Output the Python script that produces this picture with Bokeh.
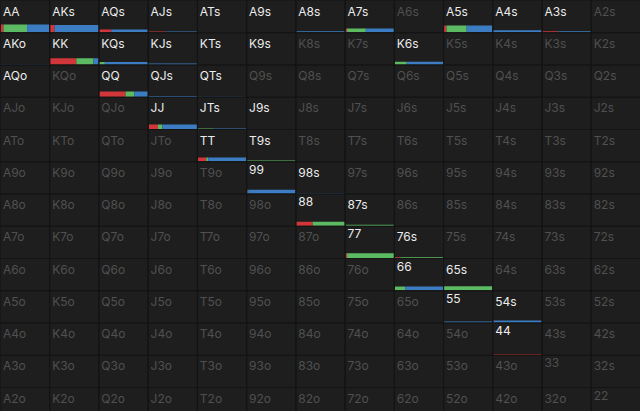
from bokeh.plotting import figure
from bokeh.models import Range1d, ColumnDataSource, GlobalInlineStyleSheet
from bokeh.embed import file_html
from bokeh.resources import INLINE
from bokeh.core.properties import value

# ---- data ----
RANKS = ["A", "K", "Q", "J", "T", "9", "8", "7", "6", "5", "4", "3", "2"]

ACTIVE = ["AA", "AKs", "AQs", "AJs", "ATs", "A9s", "A8s", "A7s", "A5s", "A4s", "A3s",
          "AKo", "KK", "KQs", "KJs", "KTs", "K9s", "K6s",
          "AQo", "QQ", "QJs", "QTs",
          "JJ", "JTs", "J9s",
          "TT", "T9s", "99", "98s", "88", "87s", "77", "76s",
          "66", "65s", "55", "54s", "44"]

BAR_HANDS = ["AA", "AKs", "AQs", "AJs", "ATs", "A8s", "A7s", "A5s", "A4s", "A3s",
             "AKo", "KK", "KQs", "KJs", "K6s",
             "QQ", "QJs", "QTs",
             "JJ", "JTs", "J9s",
             "TT", "T9s", "99", "98s", "88", "87s", "77", "76s",
             "66", "65s", "55", "54s", "44"]
# overall frequency of the hand (bar height)
BAR_WEIGHT = [0.83, 0.77, 0.33, 0.12, 0.06, 0.14, 0.42, 0.72, 0.25, 0.15,
              0.05, 0.67, 0.30, 0.16, 0.32,
              0.57, 0.13, 0.05,
              0.50, 0.10, 0.05,
              0.42, 0.12, 0.42, 0.07, 0.45, 0.15, 0.52, 0.13,
              0.42, 0.45, 0.16, 0.26, 0.10]
# split between actions, in percent
BAR_RED = [6, 10, 25, 36, 46, 0, 4, 6, 0, 33,
           0, 54, 0, 0, 0,
           54, 0, 0,
           20, 0, 0,
           18, 0, 2, 0, 34, 0, 4, 12,
           0, 0, 0, 2, 100]
BAR_GREEN = [48, 0, 0, 0, 0, 0, 38, 41, 0, 0,
             0, 35, 12, 0, 25,
             18, 3, 8,
             9, 33, 30,
             4, 100, 1, 0, 66, 100, 96, 88,
             22, 100, 0, 0, 0]
BAR_BLUE = [46, 90, 75, 64, 54, 100, 58, 53, 100, 67,
            100, 11, 88, 100, 75,
            28, 97, 92,
            71, 67, 70,
            78, 0, 97, 100, 0, 0, 0, 0,
            78, 0, 100, 98, 0]

# ---- styles ----
BG = "#1e1e1e"
GRID = "#141414"
TXT_ON = "#ececec"
TXT_OFF = "#505050"
C_RED = "#d0363a"
C_GREEN = "#5cbb62"
C_BLUE = "#3b7cc2"

W, H = 640, 411
N = 13
CELL_W_PX = W / N
CELL_H_PX = 32.25
MAX_BAR_PX = 10.0


def hand_name(i, j):
    if i == j:
        return RANKS[i] + RANKS[j]
    if i < j:
        return RANKS[i] + RANKS[j] + "s"
    return RANKS[j] + RANKS[i] + "o"


pos = {}
cl, cr, ct, cb, tx, ty, tt, tc = [], [], [], [], [], [], [], []
for i in range(N):
    for j in range(N):
        h = hand_name(i, j)
        pos[h] = (i, j)
        cl.append(j); cr.append(j + 1); ct.append(i); cb.append(i + 1)
        tx.append(j + 2.4 / CELL_W_PX)
        ty.append(i + 3.0 / CELL_H_PX)
        tt.append(h)
        tc.append(TXT_ON if h in ACTIVE else TXT_OFF)

cells = ColumnDataSource(dict(left=cl, right=cr, top=ct, bottom=cb))
labels = ColumnDataSource(dict(x=tx, y=ty, text=tt, color=tc))

bl, br, bt, bb, bc = [], [], [], [], []
for h, w, r, g, b in zip(BAR_HANDS, BAR_WEIGHT, BAR_RED, BAR_GREEN, BAR_BLUE):
    i, j = pos[h]
    tot = r + g + b
    height = w * MAX_BAR_PX / CELL_H_PX
    x0 = float(j)
    for part, col in ((r, C_RED), (g, C_GREEN), (b, C_BLUE)):
        if part <= 0:
            continue
        x1 = x0 + part / tot
        bl.append(x0); br.append(x1); bt.append(i + 1 - height); bb.append(i + 1); bc.append(col)
        x0 = x1
bars = ColumnDataSource(dict(left=bl, right=br, top=bt, bottom=bb, color=bc))

p = figure(width=W, height=H, x_range=Range1d(0, N), y_range=Range1d(H / CELL_H_PX, 0),
           x_axis_type=None, y_axis_type=None, output_backend="svg", toolbar_location=None,
           min_border=0, background_fill_color=BG, border_fill_color=BG, outline_line_color=None)
p.grid.visible = False
p.stylesheets = [GlobalInlineStyleSheet(css="body{margin:0;background-color:#1e1e1e;}")]

p.quad(left="left", right="right", top="top", bottom="bottom", source=cells,
       fill_color=BG, line_color=None)
p.quad(left="left", right="right", top="top", bottom="bottom", source=bars,
       fill_color="color", line_color=None)
p.quad(left="left", right="right", top="top", bottom="bottom", source=cells,
       fill_alpha=0, line_color=GRID, line_width=1)
p.text(x="x", y="y", text="text", source=labels, text_color="color",
       text_font=value("Inter"), text_font_size="12px",
       text_baseline="top", text_align="left")

open("out.html", "w").write(file_html(p, INLINE))
